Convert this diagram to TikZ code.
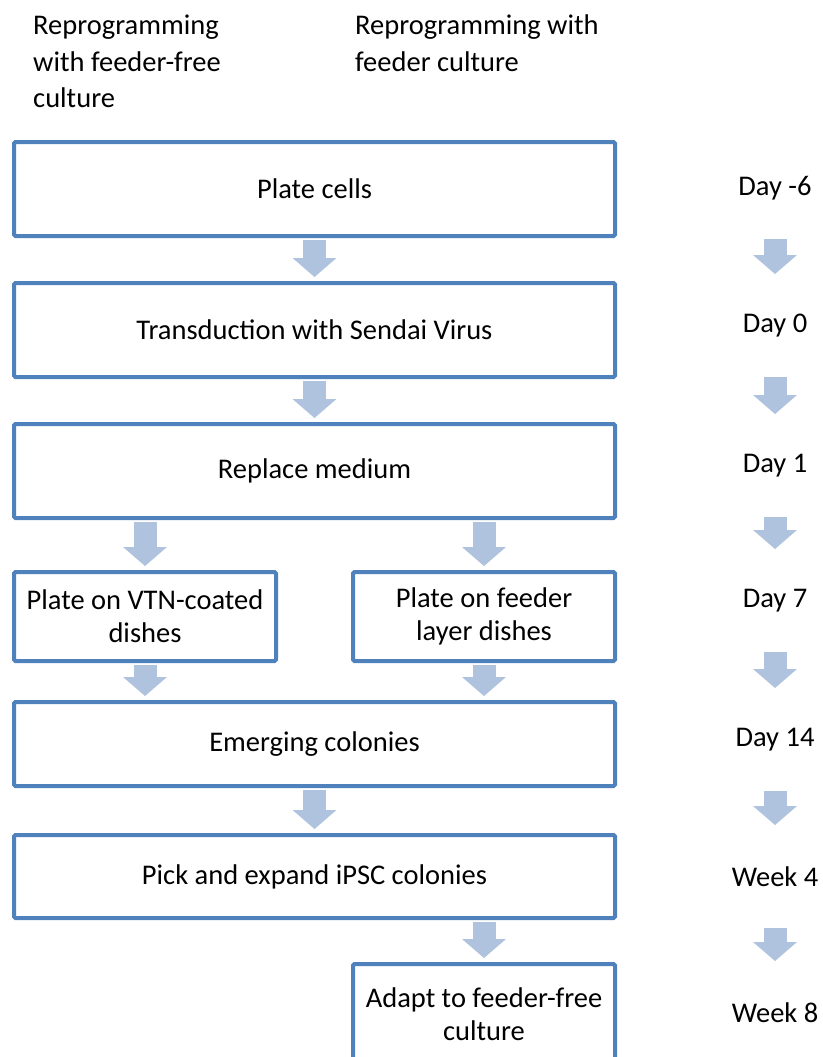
\documentclass[tikz,border=0pt]{standalone}
\usepackage{fontspec}
\setmainfont{Carlito}
\usepackage{tikz}
\usetikzlibrary{positioning}
\usetikzlibrary{arrows.meta}

\definecolor{boxblue}{HTML}{4F81BD}
\definecolor{arrowblue}{HTML}{B0C3DE}

\begin{document}
\begin{tikzpicture}[x=1pt, y=-1pt,
  font=\fontsize{28.5}{36.5}\selectfont,
  box/.style  = {draw=boxblue, line width=4pt, rounded corners=1.5pt,
                 align=center, inner sep=2pt,
                 font=\fontsize{28.5}{33}\selectfont},
  wide/.style = {box, minimum width=601pt, minimum height=94pt},
  half/.style = {box, minimum width=262pt, minimum height=89pt},
  flow/.style = {color=arrowblue, line width=23pt,
                 -{Triangle[width=44pt,length=19pt,line width=0pt]},
                 shorten <=2pt, shorten >=4pt},
  tick/.style = {flow, shorten <=51pt, shorten >=52pt},
  node distance = 43pt and 73pt]
  \useasboundingbox (0,0) rectangle (822,1057);
  \clip (0,0) rectangle (822,1057);

  % column heads
  \node[anchor=north west, align=left, inner sep=0pt] (headfree) at (33,15)
       {Reprogramming\\with feeder-free\\culture};
  \node[anchor=north west, align=left, inner sep=0pt] (headfeed) at (355,15)
       {Reprogramming with\\feeder culture};

  % steps
  \node[wide] (plate) at (314.5,189) {Plate cells};
  \node[wide] (trans) [below=of plate] {Transduction with Sendai Virus};
  \node[wide] (medium) [below=of trans] {Replace medium};
  \node[half, anchor=north west] (vtn) at (12,570)
       {Plate on VTN-coated\\dishes};
  \node[half, anchor=north east] (feeder) at (617,570)
       {Plate on feeder\\layer dishes};
  \node[wide, minimum height=84pt] (emerge) [below=37pt of vtn.south -| plate]
       {Emerging colonies};
  \node[wide, minimum height=83pt] (pick) [below=45pt of emerge] {Pick and expand iPSC colonies};
  \node[half, minimum height=100pt] (adapt) [below=42pt of pick.south -| feeder]
       {Adapt to feeder-free\\culture};

  % time line
  \node (dm6) at (775,188) {Day -6};
  \node (d0)  at (775,326) {Day 0};
  \node (d1)  at (775,466) {Day 1};
  \node (d7)  at (775,601) {Day 7};
  \node (d14) at (775,740) {Day 14};
  \node (w4)  at (775,877) {Week 4};
  \node (w8)  at (775,1013) {Week 8};

  \path[flow] (plate) edge (trans)
              (trans) edge (medium)
              (vtn.north |- medium.south) edge (vtn)
              (feeder.north |- medium.south) edge (feeder)
              (vtn) edge (vtn.south |- emerge.north)
              (feeder) edge (feeder.south |- emerge.north)
              (emerge) edge (pick)
              (adapt.north |- pick.south) edge (adapt);

  \path[tick] (dm6.center) edge (d0.center)
              (d0.center) edge (d1.center)
              (d1.center) edge (d7.center)
              (d7.center) edge (d14.center)
              (d14.center) edge (w4.center)
              (w4.center) edge (w8.center);
\end{tikzpicture}
\end{document}
